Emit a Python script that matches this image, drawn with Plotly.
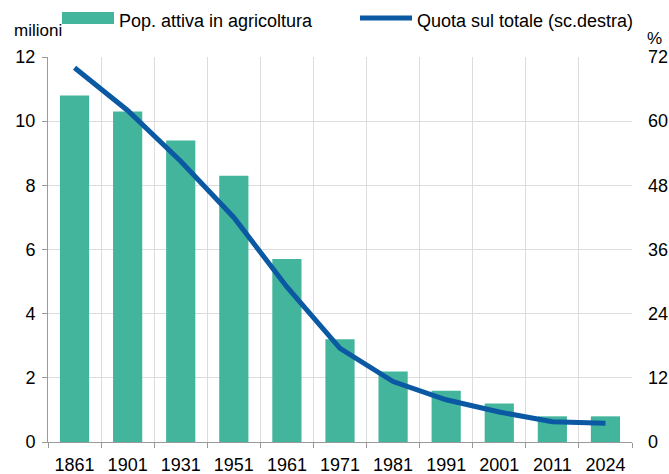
import plotly.graph_objects as go

# data
anni = ["1861", "1901", "1931", "1951", "1961", "1971", "1981", "1991", "2001", "2011", "2024"]
pop_agricoltura = [10.8, 10.3, 9.4, 8.3, 5.7, 3.2, 2.2, 1.6, 1.2, 0.8, 0.8]  # milioni
quota_totale = [70.0, 62.0, 52.5, 42.0, 29.0, 17.5, 11.3, 7.9, 5.6, 3.8, 3.5]  # %

VERDE = "#43b59c"
BLU = "#0b58a3"
FONT = "Liberation Sans, Arial"

fig = go.Figure()

# bars on the left axis
fig.add_trace(go.Bar(x=anni, y=pop_agricoltura, name="Pop. attiva in agricoltura",
                     marker=dict(color=VERDE, line=dict(width=0))))

# share line on the right axis
fig.add_trace(go.Scatter(x=anni, y=quota_totale, name="Quota sul totale (sc.destra)",
                         mode="lines", yaxis="y2",
                         line=dict(color=BLU, width=5)))

W, H = 669, 474
L, R, T, B = 48, 37, 57, 32
pw, ph = W - L - R, H - T - B

def px(x):  # pixel -> paper x
    return (x - L) / pw

def py(y):  # pixel -> paper y
    return (H - B - y) / ph

fig.update_layout(
    width=W, height=H,
    margin=dict(l=L, r=R, t=T, b=B),
    plot_bgcolor="white", paper_bgcolor="white",
    font=dict(family=FONT, size=18, color="#000000"),
    showlegend=False,
    bargap=0.45,
    xaxis=dict(type="category", tickson="boundaries", showgrid=True, gridcolor="#dcdcdc",
               gridwidth=1, showline=True, linecolor="#9a9a9a", linewidth=1,
               ticks="outside", ticklen=5, tickcolor="#9a9a9a",
               ticklabelstandoff=6, zeroline=False, automargin=False),
    yaxis=dict(range=[0, 12], dtick=2, showgrid=True, gridcolor="#dcdcdc",
               showline=True, linecolor="#9a9a9a", linewidth=1,
               ticks="outside", ticklen=5, tickcolor="#9a9a9a",
               ticklabelstandoff=3, zeroline=False, automargin=False),
    yaxis2=dict(range=[0, 72], dtick=12, overlaying="y", side="right",
                showgrid=False, showline=False, ticks="", zeroline=False,
                ticklabelstandoff=15, automargin=False),
)

# hand-drawn legend above the plot
fig.add_shape(type="rect", xref="paper", yref="paper",
              x0=px(62), x1=px(114), y0=py(24), y1=py(12),
              fillcolor=VERDE, line=dict(width=0))
fig.add_annotation(text="Pop. attiva in agricoltura", xref="paper", yref="paper",
                   x=px(117), y=py(21), xanchor="left", yanchor="middle",
                   showarrow=False)
fig.add_shape(type="line", xref="paper", yref="paper",
              x0=px(360), x1=px(412), y0=py(18), y1=py(18),
              line=dict(color=BLU, width=5))
fig.add_annotation(text="Quota sul totale (sc.destra)", xref="paper", yref="paper",
                   x=px(415), y=py(21), xanchor="left", yanchor="middle",
                   showarrow=False)

# axis unit labels
fig.add_annotation(text="milioni", xref="paper", yref="paper",
                   x=px(12), y=py(30), xanchor="left", yanchor="middle",
                   showarrow=False, font=dict(size=17))
fig.add_annotation(text="%", xref="paper", yref="paper",
                   x=px(645), y=py(38), xanchor="left", yanchor="middle",
                   showarrow=False, font=dict(size=17))

# drop the default body margin so the figure sits at the window's corner
fig.write_html("out.html", config={"displayModeBar": False},
               post_script="document.body.style.margin='0';")
